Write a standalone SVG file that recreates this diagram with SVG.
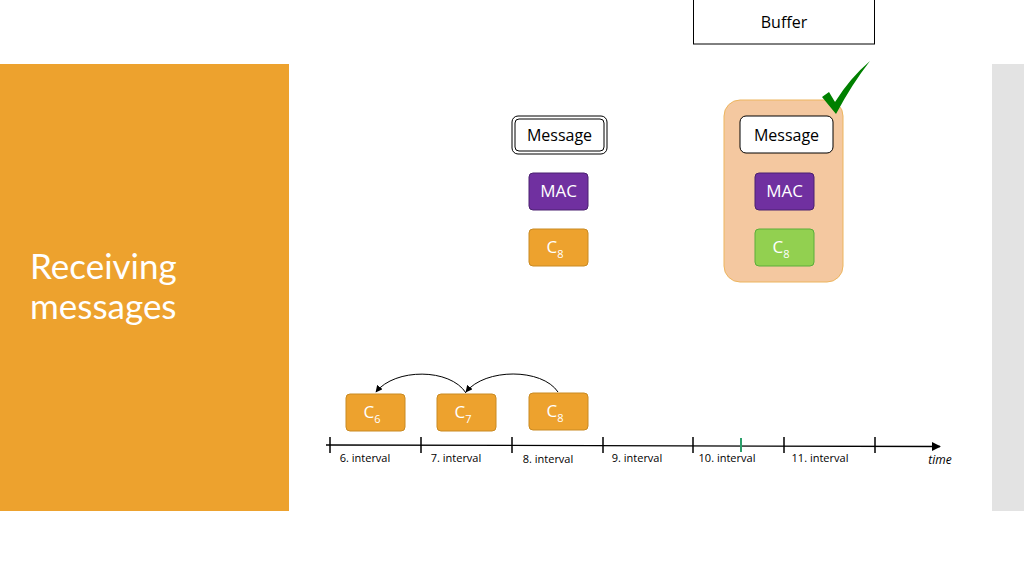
<svg xmlns="http://www.w3.org/2000/svg" width="1024" height="576" viewBox="0 0 1024 576">
<defs>
<style>
text{font-family:"Open Sans","Noto Sans","Liberation Sans",sans-serif}
.title{font-family:Lato,"Open Sans",sans-serif;font-size:35px;fill:#fff}
.lbl{font-size:16px;fill:#000;text-anchor:middle}
.wt{font-size:17px;fill:#fff;text-anchor:middle}
.iv{font-size:11px;fill:#000;text-anchor:middle}
.orange{fill:#EDA22E;stroke:#C98A22;stroke-width:1}
.purple{fill:#7030A0;stroke:#4B2170;stroke-width:1}
.green{fill:#92D050;stroke:#5AAE3A;stroke-width:1}
.tick{stroke:#000;stroke-width:1.5}
</style>
<marker id="ah" viewBox="0 0 10 10" refX="9" refY="5" markerWidth="7" markerHeight="7" orient="auto-start-reverse"><path d="M0,0 L10,5 L0,10 z" fill="#000"/></marker>
</defs>
<rect width="1024" height="576" fill="#fff"/>
<rect x="0" y="64" width="289" height="447" fill="#EDA22E"/>
<rect x="992" y="64" width="32" height="447" fill="#E3E3E3"/>
<text x="30" y="279" class="title">Receiving</text>
<text x="30" y="319" class="title">messages</text>

<g id="buffer">
<rect x="693.5" y="-1" width="181" height="45" fill="#fff" stroke="#000" stroke-width="1"/>
<text x="784" y="28" class="lbl">Buffer</text>
</g>

<g id="msg-left">
<rect x="512" y="116" width="95" height="38" rx="6" fill="#fff" stroke="#000" stroke-width="1"/>
<rect x="515" y="119" width="89" height="32" rx="4" fill="none" stroke="#000" stroke-width="1"/>
<text x="559.5" y="141" class="lbl">Message</text>
</g>
<g id="mac-left">
<rect x="529" y="173" width="59" height="37" rx="4" class="purple"/>
<text x="558.5" y="197" class="wt">MAC</text>
</g>
<g id="c8-left">
<rect x="529" y="229" width="59" height="37" rx="4" class="orange"/>
<text x="555" y="253" class="wt">C<tspan dy="5" style="font-size:11px">8</tspan></text>
</g>

<g id="container">
<rect x="724" y="100" width="119" height="182" rx="16" fill="#F4C8A0" stroke="#EDB55E" stroke-width="1"/>
</g>
<g id="msg-right">
<rect x="740" y="116" width="93" height="37" rx="6" fill="#fff" stroke="#000" stroke-width="1"/>
<text x="786.5" y="141" class="lbl">Message</text>
</g>
<g id="mac-right">
<rect x="755" y="173" width="59" height="37" rx="4" class="purple"/>
<text x="784.5" y="197" class="wt">MAC</text>
</g>
<g id="c8-right">
<rect x="755" y="229" width="59" height="37" rx="4" class="green"/>
<text x="781" y="253" class="wt">C<tspan dy="5" style="font-size:11px">8</tspan></text>
</g>
<g id="check">
<path d="M822,97 L829,92 L835,102 Q850,78 870,61 Q852,84 836,114 Z" fill="#008000"/>
</g>

<g id="c6">
<rect x="346" y="394" width="59" height="37" rx="4" class="orange"/>
<text x="372" y="418" class="wt">C<tspan dy="5" style="font-size:11px">6</tspan></text>
</g>
<g id="c7">
<rect x="437" y="394" width="59" height="37" rx="4" class="orange"/>
<text x="463" y="418" class="wt">C<tspan dy="5" style="font-size:11px">7</tspan></text>
</g>
<g id="c8-time">
<rect x="529" y="393" width="59" height="37" rx="4" class="orange"/>
<text x="555" y="417" class="wt">C<tspan dy="5" style="font-size:11px">8</tspan></text>
</g>

<g id="connectors" fill="none" stroke="#000" stroke-width="1">
<path d="M466,393 C450,368 395,368 376,392" marker-end="url(#ah)"/>
<path d="M558,392 C542,368 485,368 466,392" marker-end="url(#ah)"/>
<path d="M326,445 L940,446.5" stroke-width="1.3" marker-end="url(#ah)"/>
</g>

<g id="timeline">
<line x1="330" y1="437" x2="330" y2="453" class="tick"/>
<line x1="421" y1="437" x2="421" y2="453" class="tick"/>
<line x1="512" y1="437" x2="512" y2="453" class="tick"/>
<line x1="603" y1="437" x2="603" y2="453" class="tick"/>
<line x1="693" y1="437" x2="693" y2="453" class="tick"/>
<line x1="784" y1="437" x2="784" y2="453" class="tick"/>
<line x1="875" y1="437" x2="875" y2="453" class="tick"/>
<line x1="741" y1="438" x2="741" y2="452" stroke="#2BA06B" stroke-width="2"/>
<text x="365" y="462" class="iv">6. interval</text>
<text x="456" y="462" class="iv">7. interval</text>
<text x="548" y="463" class="iv">8. interval</text>
<text x="637" y="462" class="iv">9. interval</text>
<text x="727" y="462" class="iv">10. interval</text>
<text x="820" y="462" class="iv">11. interval</text>
<text x="940" y="464" style="font-size:12px;font-style:italic;text-anchor:middle">time</text>
</g>
</svg>
